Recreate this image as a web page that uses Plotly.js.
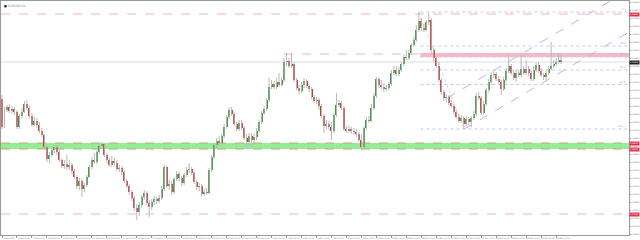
<!DOCTYPE html>
<html><head><meta charset="utf-8">
<script src="https://cdn.plot.ly/plotly-3.0.1.min.js"></script>
<style>html,body{margin:0;padding:0;background:#fff}#chart{width:640px;height:240px}</style>
</head><body><div id="chart"></div>
<script>
const symbol = "EURUSD,H4";
const open = [
1.0901,1.0873,1.0890,1.0893,1.0889,1.0891,1.0888,1.0873,1.0884,1.0888,
1.0896,1.0892,1.0884,1.0875,1.0879,1.0875,1.0869,1.0865,1.0853,1.0841,
1.0845,1.0850,1.0853,1.0848,1.0840,1.0834,1.0836,1.0833,1.0835,1.0829,
1.0823,1.0814,1.0819,1.0811,1.0815,1.0823,1.0833,1.0840,1.0838,1.0848,
1.0854,1.0856,1.0845,1.0840,1.0835,1.0839,1.0837,1.0831,1.0832,1.0828,
1.0819,1.0814,1.0808,1.0802,1.0792,1.0788,1.0795,1.0803,1.0807,1.0797,
1.0793,1.0798,1.0801,1.0799,1.0802,1.0811,1.0833,1.0814,1.0816,1.0808,
1.0821,1.0826,1.0822,1.0817,1.0825,1.0830,1.0831,1.0827,1.0818,1.0813,
1.0814,1.0806,1.0808,1.0807,1.0830,1.0843,1.0855,1.0859,1.0857,1.0864,
1.0873,1.0883,1.0890,1.0886,1.0876,1.0871,1.0877,1.0872,1.0862,1.0858,
1.0864,1.0860,1.0863,1.0869,1.0878,1.0887,1.0891,1.0900,1.0913,1.0916,
1.0913,1.0918,1.0915,1.0920,1.0938,1.0939,1.0934,1.0936,1.0920,1.0912,
1.0909,1.0915,1.0919,1.0914,1.0911,1.0903,1.0899,1.0900,1.0894,1.0884,
1.0874,1.0876,1.0873,1.0869,1.0885,1.0895,1.0897,1.0892,1.0871,1.0869,
1.0871,1.0869,1.0868,1.0866,1.0860,1.0853,1.0872,1.0880,1.0879,1.0892,
1.0904,1.0921,1.0915,1.0913,1.0911,1.0912,1.0916,1.0927,1.0930,1.0926,
1.0930,1.0936,1.0943,1.0942,1.0947,1.0955,1.0960,1.0970,1.0979,1.0972,
1.0970,1.0978,1.0980,1.0950,1.0942,1.0934,1.0920,1.0908,1.0902,1.0903,
1.0897,1.0894,1.0888,1.0883,1.0879,1.0882,1.0876,1.0881,1.0878,1.0882,
1.0886,1.0904,1.0902,1.0887,1.0896,1.0910,1.0918,1.0925,1.0926,1.0921,
1.0918,1.0911,1.0920,1.0929,1.0934,1.0927,1.0922,1.0927,1.0925,1.0931,
1.0927,1.0931,1.0927,1.0921,1.0930,1.0935,1.0929,1.0925,1.0923,1.0927,
1.0931,1.0934,1.0936,1.0938,1.0940];
const high = [
1.0905,1.0893,1.0895,1.0896,1.0894,1.0893,1.0890,1.0886,1.0892,1.0899,
1.0900,1.0894,1.0887,1.0883,1.0882,1.0878,1.0872,1.0866,1.0854,1.0848,
1.0852,1.0855,1.0855,1.0850,1.0842,1.0840,1.0845,1.0840,1.0837,1.0831,
1.0825,1.0822,1.0821,1.0817,1.0825,1.0835,1.0843,1.0847,1.0850,1.0856,
1.0858,1.0857,1.0847,1.0842,1.0844,1.0842,1.0840,1.0835,1.0834,1.0830,
1.0821,1.0816,1.0810,1.0804,1.0796,1.0798,1.0805,1.0810,1.0809,1.0800,
1.0801,1.0804,1.0803,1.0805,1.0814,1.0835,1.0834,1.0820,1.0819,1.0823,
1.0829,1.0828,1.0824,1.0827,1.0833,1.0837,1.0833,1.0829,1.0820,1.0817,
1.0816,1.0811,1.0812,1.0832,1.0845,1.0858,1.0862,1.0864,1.0866,1.0876,
1.0885,1.0893,1.0893,1.0888,1.0878,1.0880,1.0880,1.0874,1.0866,1.0867,
1.0867,1.0866,1.0872,1.0880,1.0889,1.0894,1.0902,1.0922,1.0920,1.0919,
1.0922,1.0927,1.0923,1.0942,1.0947,1.0942,1.0947,1.0938,1.0922,1.0915,
1.0918,1.0922,1.0921,1.0916,1.0913,1.0905,1.0903,1.0902,1.0896,1.0886,
1.0880,1.0879,1.0878,1.0887,1.0907,1.0900,1.0899,1.0894,1.0874,1.0874,
1.0873,1.0872,1.0871,1.0868,1.0866,1.0874,1.0883,1.0884,1.0896,1.0907,
1.0923,1.0923,1.0920,1.0917,1.0915,1.0918,1.0930,1.0934,1.0934,1.0933,
1.0938,1.0946,1.0950,1.0950,1.0957,1.0963,1.0975,1.0988,1.0982,1.0976,
1.0980,1.0987,1.0982,1.0952,1.0944,1.0938,1.0922,1.0910,1.0906,1.0905,
1.0900,1.0896,1.0890,1.0886,1.0885,1.0884,1.0884,1.0883,1.0884,1.0889,
1.0907,1.0908,1.0904,1.0899,1.0912,1.0921,1.0928,1.0929,1.0928,1.0924,
1.0920,1.0923,1.0932,1.0945,1.0936,1.0930,1.0930,1.0929,1.0945,1.0934,
1.0940,1.0934,1.0930,1.0934,1.0937,1.0938,1.0932,1.0927,1.0930,1.0934,
1.0958,1.0940,1.0942,1.0947,1.0945];
const low = [
1.0871,1.0872,1.0888,1.0887,1.0886,1.0885,1.0871,1.0871,1.0882,1.0887,
1.0890,1.0882,1.0873,1.0874,1.0872,1.0867,1.0863,1.0851,1.0838,1.0837,
1.0843,1.0847,1.0845,1.0838,1.0832,1.0831,1.0830,1.0830,1.0826,1.0821,
1.0811,1.0810,1.0803,1.0808,1.0813,1.0822,1.0831,1.0836,1.0836,1.0846,
1.0852,1.0843,1.0837,1.0833,1.0833,1.0834,1.0829,1.0828,1.0825,1.0817,
1.0812,1.0805,1.0799,1.0789,1.0780,1.0784,1.0792,1.0800,1.0795,1.0783,
1.0790,1.0795,1.0796,1.0797,1.0800,1.0809,1.0812,1.0810,1.0805,1.0806,
1.0819,1.0819,1.0814,1.0815,1.0823,1.0827,1.0825,1.0816,1.0810,1.0809,
1.0804,1.0804,1.0805,1.0806,1.0828,1.0841,1.0852,1.0854,1.0855,1.0862,
1.0871,1.0881,1.0884,1.0874,1.0869,1.0869,1.0870,1.0860,1.0852,1.0854,
1.0853,1.0855,1.0860,1.0867,1.0876,1.0885,1.0889,1.0898,1.0911,1.0911,
1.0911,1.0913,1.0914,1.0918,1.0934,1.0932,1.0932,1.0918,1.0910,1.0906,
1.0907,1.0912,1.0912,1.0908,1.0901,1.0897,1.0896,1.0890,1.0882,1.0867,
1.0871,1.0870,1.0860,1.0867,1.0883,1.0893,1.0890,1.0869,1.0867,1.0867,
1.0866,1.0865,1.0863,1.0858,1.0850,1.0851,1.0870,1.0877,1.0878,1.0890,
1.0902,1.0912,1.0911,1.0908,1.0909,1.0910,1.0914,1.0925,1.0924,1.0924,
1.0928,1.0934,1.0940,1.0940,1.0945,1.0953,1.0958,1.0968,1.0969,1.0968,
1.0969,1.0975,1.0947,1.0938,1.0932,1.0918,1.0905,1.0899,1.0898,1.0895,
1.0892,1.0886,1.0881,1.0877,1.0877,1.0871,1.0874,1.0875,1.0873,1.0880,
1.0884,1.0900,1.0885,1.0885,1.0894,1.0908,1.0916,1.0922,1.0919,1.0916,
1.0905,1.0909,1.0918,1.0927,1.0925,1.0920,1.0918,1.0923,1.0923,1.0925,
1.0925,1.0924,1.0919,1.0919,1.0928,1.0927,1.0923,1.0920,1.0920,1.0925,
1.0930,1.0932,1.0934,1.0936,1.0936];
const close = [
1.0873,1.0890,1.0893,1.0889,1.0891,1.0888,1.0873,1.0884,1.0888,1.0896,
1.0892,1.0884,1.0875,1.0879,1.0875,1.0869,1.0865,1.0853,1.0841,1.0845,
1.0850,1.0853,1.0848,1.0840,1.0834,1.0836,1.0833,1.0835,1.0829,1.0823,
1.0814,1.0819,1.0811,1.0815,1.0823,1.0833,1.0840,1.0838,1.0848,1.0854,
1.0856,1.0845,1.0840,1.0835,1.0839,1.0837,1.0831,1.0832,1.0828,1.0819,
1.0814,1.0808,1.0802,1.0792,1.0788,1.0795,1.0803,1.0807,1.0797,1.0793,
1.0798,1.0801,1.0799,1.0802,1.0811,1.0833,1.0814,1.0816,1.0808,1.0821,
1.0826,1.0822,1.0817,1.0825,1.0830,1.0831,1.0827,1.0818,1.0813,1.0814,
1.0806,1.0808,1.0807,1.0830,1.0843,1.0855,1.0859,1.0857,1.0864,1.0873,
1.0883,1.0890,1.0886,1.0876,1.0871,1.0877,1.0872,1.0862,1.0858,1.0864,
1.0860,1.0863,1.0869,1.0878,1.0887,1.0891,1.0900,1.0913,1.0916,1.0913,
1.0918,1.0915,1.0920,1.0938,1.0939,1.0934,1.0936,1.0920,1.0912,1.0909,
1.0915,1.0919,1.0914,1.0911,1.0903,1.0899,1.0900,1.0894,1.0884,1.0874,
1.0876,1.0873,1.0869,1.0885,1.0895,1.0897,1.0892,1.0871,1.0869,1.0871,
1.0869,1.0868,1.0866,1.0860,1.0853,1.0872,1.0880,1.0879,1.0892,1.0904,
1.0921,1.0915,1.0913,1.0911,1.0912,1.0916,1.0927,1.0930,1.0926,1.0930,
1.0936,1.0943,1.0942,1.0947,1.0955,1.0960,1.0970,1.0979,1.0972,1.0970,
1.0978,1.0980,1.0950,1.0942,1.0934,1.0920,1.0908,1.0902,1.0903,1.0897,
1.0894,1.0888,1.0883,1.0879,1.0882,1.0876,1.0881,1.0878,1.0882,1.0886,
1.0904,1.0902,1.0887,1.0896,1.0910,1.0918,1.0925,1.0926,1.0921,1.0918,
1.0911,1.0920,1.0929,1.0934,1.0927,1.0922,1.0927,1.0925,1.0931,1.0927,
1.0931,1.0927,1.0921,1.0930,1.0935,1.0929,1.0925,1.0923,1.0927,1.0931,
1.0934,1.0936,1.0938,1.0940,1.0938];

const tickLabels = ["3 Feb 2017","6 Feb 00:00","7 Feb 00:00","8 Feb 00:00","9 Feb 00:00","10 Feb 00:00",
"13 Feb 00:00","14 Feb 00:00","15 Feb 00:00","16 Feb 00:00","17 Feb 00:00","20 Feb 00:00","21 Feb 00:00",
"22 Feb 00:00","23 Feb 00:00","24 Feb 00:00","27 Feb 00:00","28 Feb 00:00","1 Mar 00:00","2 Mar 00:00",
"3 Mar 00:00","6 Mar 00:00","7 Mar 00:00","8 Mar 00:00","9 Mar 00:00","10 Mar 00:00","13 Mar 00:00",
"14 Mar 00:00","15 Mar 00:00","16 Mar 00:00","17 Mar 00:00","20 Mar 00:00","21 Mar 00:00","22 Mar 00:00",
"23 Mar 00:00","24 Mar 00:00","27 Mar 00:00","28 Mar 00:00"];
const tickEvery = 6;

const fullLines = [1.0986, 1.0786];            // pink dashed levels
const supportZone = [1.0851, 1.0857];          // green zone
const supplyZone = [1.0943, 1.0947];           // pink zone
const supplyZoneStart = 167.6;
const brokenHigh = 1.0946, brokenHighStart = 113;
const fibStart = 167.6;
const fibLevels = [1.0988, 1.0954, 1.0943, 1.0930, 1.09155, 1.0871];
const fibLabels = ["0.0", "23.6", "38.2", "50.0", "61.8", "100.0"];
const fibTrendX = [167, 185], fibTrendY = [1.0988, 1.0871];
const channelUpperX = [178.4, 244.4], channelUpperY = [1.0902, 1.1000];
const channelLowerX = [185.2, 251.2], channelLowerY = [1.0871, 1.0968];

const xRange = [-0.4, 251.2];
const yRange = [1.0765, 1.0999];
const UP = '#3a963a', DOWN = '#c83a3a', WICK = '#b8b8b8';

const idx = open.map((_, i) => i);
const wx = [], wy = [];
idx.forEach(i => { wx.push(i, i, null); wy.push(low[i], high[i], null); });
const base = idx.map(i => Math.min(open[i], close[i]));
const hgt = idx.map(i => Math.max(Math.abs(close[i] - open[i]), 0.00006));
const cols = idx.map(i => close[i] >= open[i] ? UP : DOWN);

const traces = [
  {type:'scatter', mode:'lines', x:wx, y:wy, line:{color:WICK, width:1}, hoverinfo:'skip'},
  {type:'bar', x:idx, base:base, y:hgt, width:0.8, marker:{color:cols, line:{width:0}}, hoverinfo:'skip'}
];

const shapes = [];
shapes.push({type:'rect', xref:'paper', x0:0, x1:1, yref:'y', y0:supportZone[0], y1:supportZone[1], fillcolor:'#94ec94', line:{width:0}, layer:'below'});
supportZone.forEach(v => shapes.push({type:'line', xref:'paper', x0:0, x1:1, yref:'y', y0:v, y1:v, line:{color:'#c9a47c', width:1, dash:'dash'}, layer:'below'}));
fullLines.forEach(v => shapes.push({type:'line', xref:'paper', x0:0, x1:1, yref:'y', y0:v, y1:v, line:{color:'#f7b3c2', width:1, dash:'dash'}, layer:'below'}));
shapes.push({type:'line', xref:'paper', x0:0, x1:1, yref:'y', y0:close[close.length-1], y1:close[close.length-1], line:{color:'#dcdcdc', width:1}, layer:'below'});
shapes.push({type:'rect', xref:'x', x0:supplyZoneStart, x1:xRange[1], yref:'y', y0:supplyZone[0], y1:supplyZone[1], fillcolor:'#f8b8c5', line:{width:0}, layer:'below'});
shapes.push({type:'line', xref:'x', x0:brokenHighStart, x1:xRange[1], yref:'y', y0:brokenHigh, y1:brokenHigh, line:{color:'#f7b3c2', width:1, dash:'dash'}, layer:'below'});
fibLevels.forEach(v => shapes.push({type:'line', xref:'x', x0:fibStart, x1:xRange[1], yref:'y', y0:v, y1:v, line:{color:'#c6c6f2', width:1, dash:'dot'}, layer:'below'}));
shapes.push({type:'line', xref:'x', yref:'y', x0:fibTrendX[0], x1:fibTrendX[1], y0:fibTrendY[0], y1:fibTrendY[1], line:{color:'#d8d8d8', width:1, dash:'dot'}, layer:'below'});
shapes.push({type:'line', xref:'x', yref:'y', x0:channelUpperX[0], x1:channelUpperX[1], y0:channelUpperY[0], y1:channelUpperY[1], line:{color:'#b4b4ee', width:1, dash:'dash'}, layer:'below'});
shapes.push({type:'line', xref:'x', yref:'y', x0:channelLowerX[0], x1:channelLowerX[1], y0:channelLowerY[0], y1:channelLowerY[1], line:{color:'#b4b4ee', width:1, dash:'dash'}, layer:'below'});

const annotations = [];
annotations.push({xref:'paper', yref:'paper', x:0, y:1, xanchor:'left', yanchor:'top', xshift:1, yshift:-1,
  text:'<span style="color:#222">■</span> ' + symbol, showarrow:false, font:{size:3, color:'#888', family:'DejaVu Sans'}});
const axisLabel = (v, bg) => ({xref:'paper', yref:'y', x:1, y:v, xanchor:'left', yanchor:'middle', xshift:0, text:v.toFixed(5),
  showarrow:false, bgcolor:bg, borderpad:0, font:{size:2, color:'#fff', family:'DejaVu Sans'}});
annotations.push(axisLabel(fullLines[0], '#e0304f'));
annotations.push(axisLabel(fullLines[1], '#e0304f'));
annotations.push(axisLabel(supportZone[0], '#e0304f'));
annotations.push(axisLabel(supportZone[1], '#e0304f'));
annotations.push(axisLabel(close[close.length-1], '#222'));
fibLevels.forEach((v, k) => annotations.push({xref:'paper', yref:'y', x:0.997, y:v, xanchor:'right', yanchor:'bottom',
  text:fibLabels[k], showarrow:false, font:{size:2.5, color:'#9a9ade', family:'DejaVu Sans'}, borderpad:0}));

const layout = {
  width:640, height:240, margin:{l:1, r:11, t:1, b:5, pad:0},
  paper_bgcolor:'#fff', plot_bgcolor:'#fff', showlegend:false, hovermode:false, bargap:0,
  font:{family:'DejaVu Sans', size:3, color:'#666'},
  xaxis:{range:xRange, tickvals:tickLabels.map((_, k) => k*tickEvery), ticktext:tickLabels, tickangle:0,
    tickfont:{size:2, color:'#777'}, ticks:'outside', ticklen:2, tickcolor:'#999', ticklabelshift:7, ticklabelstandoff:-1,
    showline:true, linecolor:'#999', linewidth:1, mirror:true, showgrid:false, zeroline:false, fixedrange:true},
  yaxis:{range:yRange, side:'right', tick0:1.0766, dtick:0.0008, tickformat:'.5f',
    tickfont:{size:2, color:'#777'}, ticks:'outside', ticklen:1, tickcolor:'#999', ticklabelstandoff:0,
    showline:true, linecolor:'#999', linewidth:1, mirror:true, showgrid:false, zeroline:false, fixedrange:true},
  shapes:shapes, annotations:annotations
};
Plotly.newPlot('chart', traces, layout, {staticPlot:true, displayModeBar:false});
</script></body></html>
